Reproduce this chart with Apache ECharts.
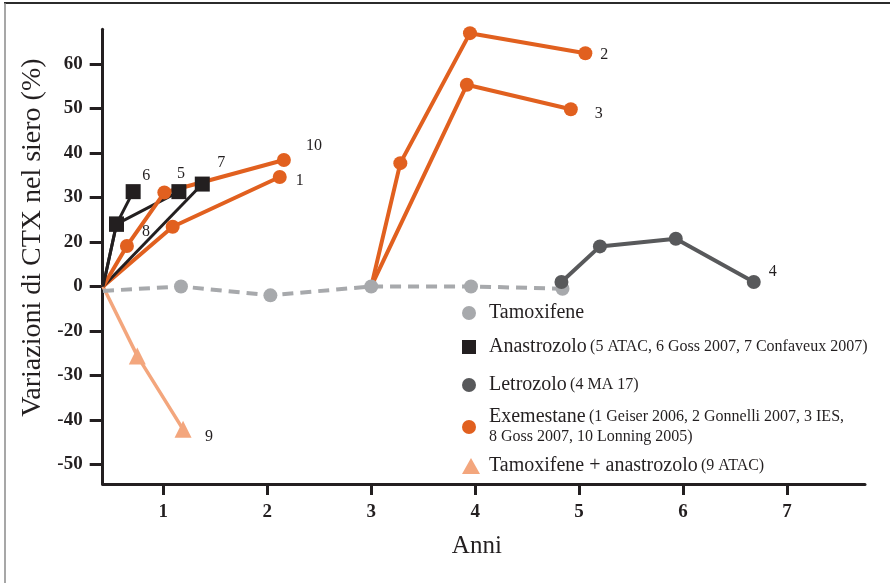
<!DOCTYPE html>
<html>
<head>
<meta charset="utf-8">
<script src="https://cdn.jsdelivr.net/npm/echarts@6/dist/echarts.min.js"></script>
<style>
html,body{margin:0;padding:0;background:#fff;}
#chart{width:890px;height:583px;}
</style>
</head>
<body>
<div id="chart"></div>
<script>
// ---- tick labels ----
const xTickLabels = [1, 2, 3, 4, 5, 6, 7];
const yTickLabels = [60, 50, 40, 30, 20, 0, -20, -30, -40, -50];

// ---- series values (years, % change in serum CTX) ----
const tamoxX = [0.42, 1.17, 2.03, 3.0, 3.96, 4.84];
const tamoxY = [-2, 0, -4, 0, 0, -1];

const ana5X = [0.42, 0.55, 1.15];
const ana5Y = [0, 24, 31.3];
const ana6X = [0.42, 0.55, 0.71];
const ana6Y = [0, 24, 31.3];
const ana7X = [0.42, 1.375];
const ana7Y = [0, 33];

const let4X = [4.83, 5.2, 5.93, 6.68];
const let4Y = [2, 18, 20.7, 2];

const exe1X = [0.42, 1.09, 2.12];
const exe1Y = [0, 23.4, 34.6];
const exe8X = [0.42, 0.65, 1.01];
const exe8Y = [0, 18.2, 31.1];
const exe10X = [1.01, 2.16];
const exe10Y = [31.1, 38.4];
const exe2X = [3.0, 3.28, 3.95, 5.06];
const exe2Y = [0, 37.7, 66.9, 62.4];
const exe3X = [3.0, 3.92, 4.92];
const exe3Y = [0, 55.3, 49.8];

const tamAnaX = [0.42, 0.75, 1.19];
const tamAnaY = [0, -25.6, -42.1];

// ---- legend texts ----
const legendNames = ['Tamoxifene', 'Anastrozolo', 'Letrozolo', 'Exemestane', 'Tamoxifene + anastrozolo'];
const legendNotes = ['', '(5 ATAC, 6 Goss 2007, 7 Confaveux 2007)', '(4 MA 17)',
  '(1 Geiser 2006, 2 Gonnelli 2007, 3 IES,\n8 Goss 2007, 10 Lonning 2005)', '(9 ATAC)'];

// ---- axis mapping (the printed y axis has evenly spaced labels) ----
const TOP_SLOT = 5;
function toSlot(v) {
  const n = yTickLabels.length;
  let i = 0;
  while (i < n - 2 && v < yTickLabels[i + 1]) i++;
  const a = yTickLabels[i], b = yTickLabels[i + 1];
  return (TOP_SLOT - i) - (a - v) / (a - b);
}
function slotLabel(s) {
  const idx = TOP_SLOT - Math.round(s);
  return idx >= 0 && idx < yTickLabels.length ? String(yTickLabels[idx]) : '';
}

const FONT = 'Liberation Serif';
const INK = '#231f20';
const C_TAM = '#a7a9ac', C_ANA = '#231f20', C_LET = '#58595b', C_EXE = '#e1601f', C_TA = '#f3a67d';

function build(xs, ys, opts) {
  return xs.map((x, i) => {
    const item = { value: [x, toSlot(ys[i])] };
    if (opts.noFirst && i === 0) item.symbol = 'none';
    if (opts.labelAt === i || (opts.labelAt === undefined && opts.label && i === xs.length - 1)) {
      item.label = {
        show: true, formatter: opts.label, position: 'inside',
        offset: opts.offset, color: INK, fontFamily: FONT, fontSize: 16
      };
    }
    return item;
  });
}

function lineSeries(name, xs, ys, color, symbol, size, width, opts) {
  return {
    type: 'line', name: name,
    data: build(xs, ys, opts),
    symbol: symbol, symbolSize: size,
    showSymbol: true,
    lineStyle: { color: color, width: width, type: opts.dash || 'solid' },
    itemStyle: { color: color, opacity: 1 },
    label: { show: false },
    animation: false,
    clip: false,
    z: opts.z || 2
  };
}

const series = [
  lineSeries('Tamoxifene + anastrozolo', tamAnaX, tamAnaY, C_TA, 'triangle', 17, 3.5, { noFirst: true, label: '9', offset: [26, 7] }),
  lineSeries('Exemestane', exe1X, exe1Y, C_EXE, 'circle', 14, 4, { noFirst: true, label: '1', offset: [20, 4] }),
  lineSeries('Anastrozolo', ana7X, ana7Y, C_ANA, 'rect', 15, 3, { noFirst: true, label: '7', offset: [19, -21] }),
  lineSeries('Anastrozolo', ana5X, ana5Y, C_ANA, 'rect', 15, 3, { noFirst: true, label: '5', offset: [2, -18] }),
  lineSeries('Exemestane', exe8X, exe8Y, C_EXE, 'circle', 14, 4, { noFirst: true, label: '8', labelAt: 1, offset: [19, -14] }),
  lineSeries('Exemestane', exe10X, exe10Y, C_EXE, 'circle', 14, 4, { noFirst: true, label: '10', offset: [30, -14] }),
  lineSeries('Anastrozolo', ana6X, ana6Y, C_ANA, 'rect', 15, 3, { noFirst: true, label: '6', offset: [13, -16] }),
  lineSeries('Exemestane', exe2X, exe2Y, C_EXE, 'circle', 14, 4, { noFirst: true, label: '2', offset: [19, 2] }),
  lineSeries('Exemestane', exe3X, exe3Y, C_EXE, 'circle', 14, 4, { noFirst: true, label: '3', offset: [28, 5] }),
  lineSeries('Tamoxifene', tamoxX, tamoxY, C_TAM, 'circle', 14, 4, { noFirst: true, dash: [11, 7], z: 3 }),
  lineSeries('Letrozolo', let4X, let4Y, C_LET, 'circle', 14, 4, { label: '4', offset: [19, -10], z: 4 })
];

const legendIcons = ['circle', 'rect', 'circle', 'circle', 'triangle'];
const legendTops = [303, 337, 375, 407, 456];
const legends = legendNames.map((nm, i) => ({
  data: [nm],
  left: 462,
  top: legendTops[i],
  padding: 0,
  icon: legendIcons[i],
  itemWidth: i === 4 ? 18 : 14,
  itemHeight: i === 4 ? 16 : 14,
  selectedMode: false,
  textStyle: {
    padding: [0, 0, 0, i === 4 ? 4 : 8],
    rich: {
      a: { fontFamily: FONT, fontSize: 20, color: INK, lineHeight: 20 },
      b: { fontFamily: FONT, fontSize: 16, color: INK, lineHeight: 20 }
    }
  },
  formatter: function (name) {
    const note = legendNotes[i];
    if (!note) return '{a|' + name + '}';
    const parts = note.split('\n');
    let s = '{a|' + name + '} {b|' + parts[0] + '}';
    for (let k = 1; k < parts.length; k++) s += '\n{b|' + parts[k] + '}';
    return s;
  }
}));

const chart = echarts.init(document.getElementById('chart'), null, { renderer: 'canvas' });
chart.setOption({
  backgroundColor: '#ffffff',
  animation: false,
  grid: { left: 102.7, right: 25, top: 29.3, bottom: 99, containLabel: false },
  xAxis: {
    type: 'value', min: 0.417, max: 7.75,
    name: 'Anni', nameLocation: 'middle', nameGap: 50,
    nameTextStyle: { fontFamily: FONT, fontSize: 25, color: INK, padding: [0, 14, 0, 0] },
    axisLine: { show: true, onZero: false, lineStyle: { color: INK, width: 3 } },
    axisTick: { show: true, length: 11, lineStyle: { color: INK, width: 3 }, customValues: xTickLabels },
    axisLabel: { fontFamily: FONT, fontSize: 19, fontWeight: 'bold', color: INK, margin: 19,
      customValues: xTickLabels, formatter: v => String(Math.round(v)) },
    splitLine: { show: false }
  },
  yAxis: {
    type: 'value', min: -4.438, max: 5.777,
    name: 'Variazioni di CTX nel siero (%)', nameLocation: 'middle', nameGap: 46,
    nameTextStyle: { fontFamily: FONT, fontSize: 28, color: INK, padding: [0, 0, 0, 38] },
    axisLine: { show: true, onZero: false, lineStyle: { color: INK, width: 3 } },
    axisTick: { show: true, length: 13, lineStyle: { color: INK, width: 3 },
      customValues: yTickLabels.map((_, i) => TOP_SLOT - i) },
    axisLabel: { fontFamily: FONT, fontSize: 19, fontWeight: 'bold', color: INK, margin: 20,
      customValues: yTickLabels.map((_, i) => TOP_SLOT - i), formatter: slotLabel },
    splitLine: { show: false }
  },
  legend: legends,
  graphic: [
    { type: 'line', shape: { x1: 4, y1: 3, x2: 890, y2: 3 }, style: { stroke: '#2b2b2b', lineWidth: 2 } },
    { type: 'line', shape: { x1: 5, y1: 3, x2: 5, y2: 583 }, style: { stroke: '#8a8a8a', lineWidth: 1.5 } }
  ],
  series: series
});
</script>
</body>
</html>
